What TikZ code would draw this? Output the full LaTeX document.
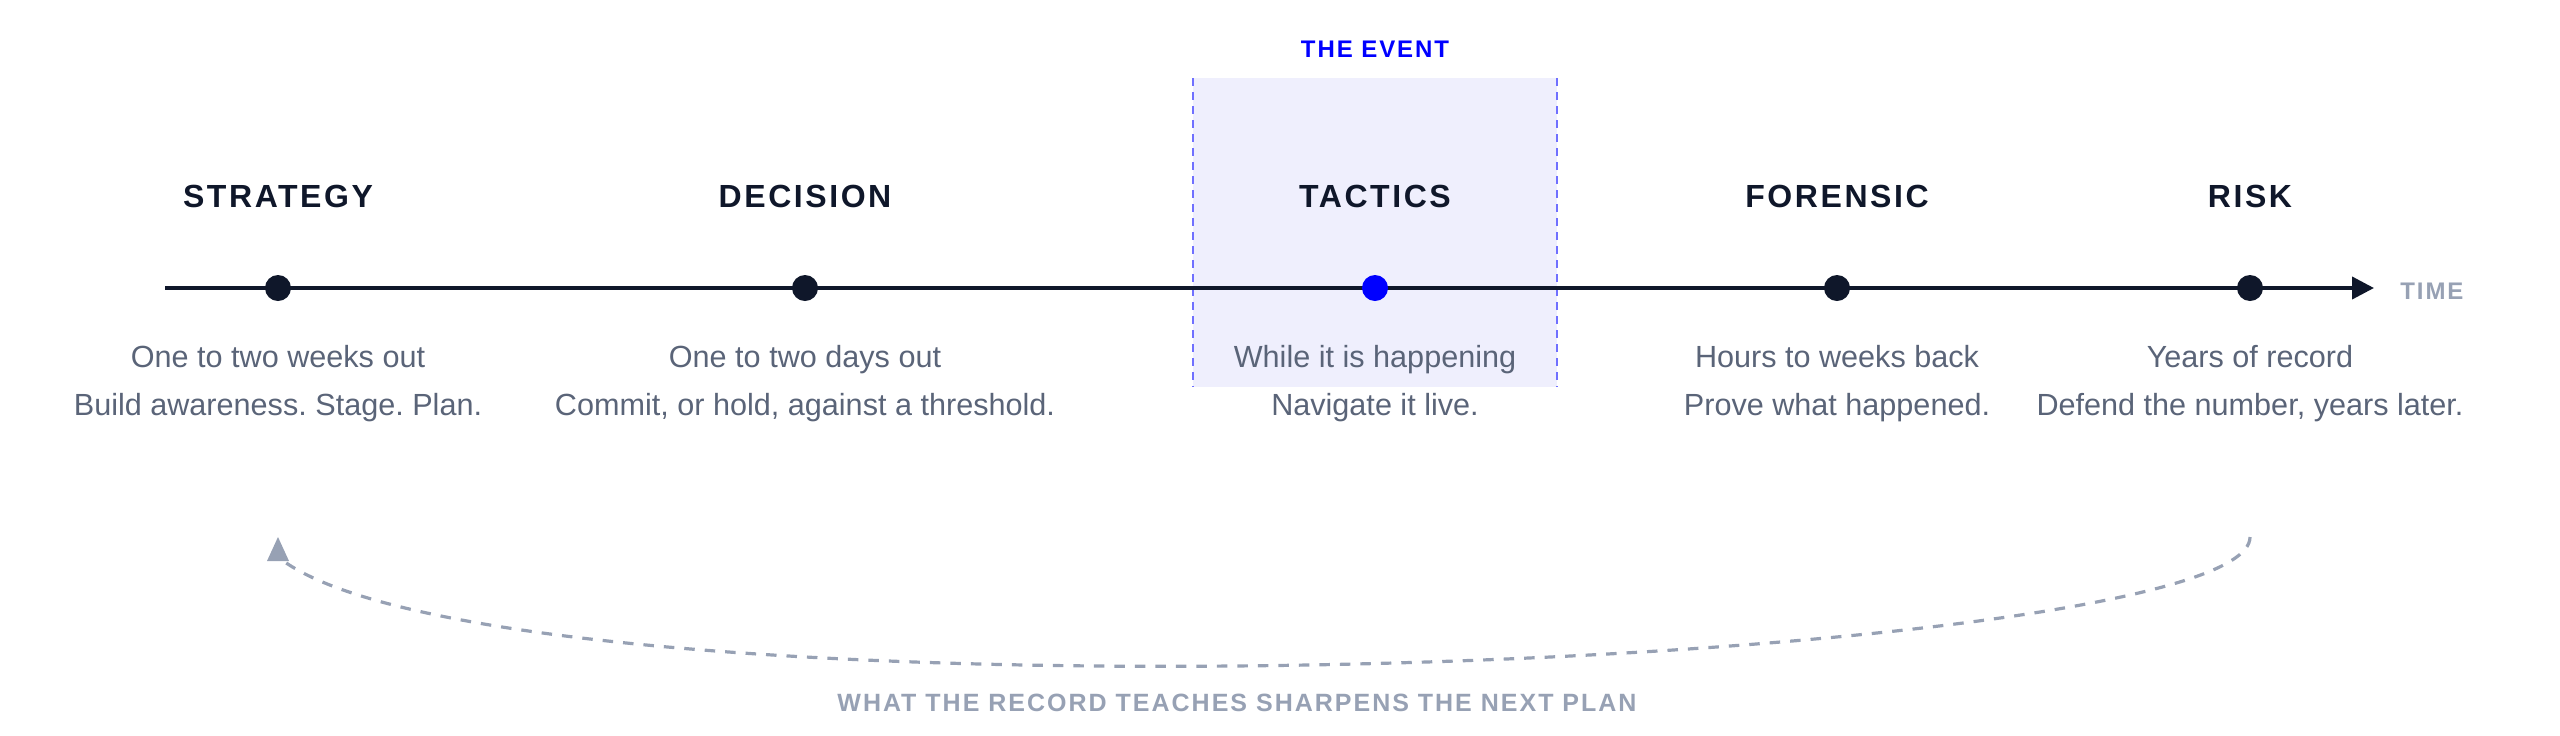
\documentclass[tikz,border=0pt]{standalone}
\usepackage{fontspec}
\setmainfont{Liberation Sans}
\newfontfamily\spacedfont[LetterSpace=8]{Liberation Sans}
\usetikzlibrary{arrows.meta}
\definecolor{ink}{HTML}{0F172A}
\definecolor{slate}{HTML}{5A6478}
\definecolor{mist}{HTML}{97A1B4}
\definecolor{eventblue}{HTML}{0000FF}
\definecolor{eventfill}{HTML}{EFEFFD}
\definecolor{eventedge}{HTML}{7070FF}
\frenchspacing

\begin{document}
\begin{tikzpicture} [x = 0.5pt, y = -0.5pt, anchor = base,
		phase/.style = {font = \spacedfont\bfseries\fontsize{16}{19}\selectfont, text = ink},
		span/.style = {font = \fontsize{15.3}{18}\selectfont, text = slate},
		tag/.style = {font = \spacedfont\bfseries\fontsize{12}{14}\selectfont, text = mist},
		dot/.style = {circle, fill = ink, inner sep = 0pt, minimum size = 13pt, anchor = center},
		timeline/.style = {draw = ink, line width = 2pt, -{Triangle[length = 11pt, width = 11pt]}},
		feedback/.style = {draw = mist, line width = 1.6pt, dash pattern = on 5.25pt off 5pt}]
		\useasboundingbox (0,0) rectangle (2560,735);
		\fill[eventfill] (1193,78) rectangle (1557,387);
		\draw[eventedge, line width = 1.4pt, dash pattern = on 4pt off 3pt] (1193,78)--(1193,387) (1557,78)--(1557,387);
		\coordinate (timeStart) at (165,288);
		\coordinate (timeEnd) at (2374,288);
		\draw[timeline] (timeStart)--(timeEnd);
		\draw (278,207) node[phase](strategyHead){STRATEGY} +(0,81) node[dot](strategy){} +(0,160) node[span](strategyWhen){One to two weeks out} +(0,208) node[span](strategyWhat){Build awareness. Stage. Plan.};
		\draw (805,207) node[phase](decisionHead){DECISION} +(0,81) node[dot](decision){} +(0,160) node[span](decisionWhen){One to two days out} +(0,208) node[span](decisionWhat){Commit, or hold, against a threshold.};
		\draw (1375,207) node[phase](tacticsHead){TACTICS} +(0,81) node[dot, fill = eventblue](tactics){} +(0,160) node[span](tacticsWhen){While it is happening} +(0,208) node[span](tacticsWhat){Navigate it live.};
		\draw (1837,207) node[phase](forensicHead){FORENSIC} +(0,81) node[dot](forensic){} +(0,160) node[span](forensicWhen){Hours to weeks back} +(0,208) node[span](forensicWhat){Prove what happened.};
		\draw (2250,207) node[phase](riskHead){RISK} +(0,81) node[dot](risk){} +(0,160) node[span](riskWhen){Years of record} +(0,208) node[span](riskWhat){Defend the number, years later.};
		\draw (1375,57) node[tag, text = eventblue](eventTag){THE EVENT};
		\draw (2400,299) node[tag, anchor = base west, inner sep = 0pt](timeTag){TIME};
		\coordinate (loopStart) at (2250,537);
		\coordinate (loopEnd) at (282,560);
		\coordinate (loopTip) at (278,537);
		\draw[feedback] (loopStart) .. controls (2250,670) and (520,735) .. (loopEnd);
		\fill[mist] (loopTip)--+(11,24)--+(-11,24)--cycle;
		\draw (1237,711) node[tag, font = \spacedfont\bfseries\fontsize{12.5}{15}\selectfont](loopTag){WHAT THE RECORD TEACHES SHARPENS THE NEXT PLAN};
	\end{tikzpicture}
\end{document}
